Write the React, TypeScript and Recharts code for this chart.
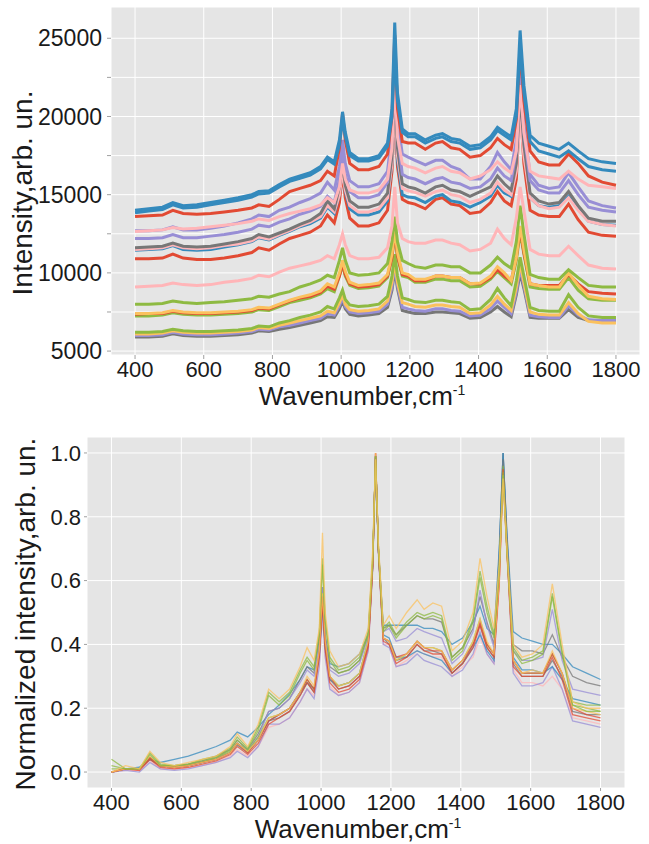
import React from 'react';
import { LineChart, Line, XAxis, YAxis, CartesianGrid } from 'recharts';

// ---------- shared wavenumber grid (cm^-1) ----------
const WAVENUMBERS = [400, 440, 480, 510, 540, 580, 620, 660, 700, 740, 760, 790, 820, 850, 880, 910, 940, 960, 980, 995, 1004, 1012, 1025, 1050, 1080, 1110, 1135, 1148, 1156, 1164, 1178, 1195, 1215, 1245, 1275, 1295, 1320, 1345, 1375, 1405, 1435, 1455, 1475, 1495, 1510, 1521, 1532, 1550, 1575, 1605, 1635, 1662, 1690, 1720, 1760, 1800];
const X_TICKS = [400, 600, 800, 1000, 1200, 1400, 1600, 1800];
const TOP_Y_TICKS = [5000, 7500, 10000, 12500, 15000, 17500, 20000, 22500, 25000];
const BOTTOM_Y_TICKS = [0, 0.2, 0.4, 0.6, 0.8, 1.0];

// ---------- raw spectra (top panel) ----------
const B1 = [14000,14100,14200,14500,14300,14350,14500,14650,14800,15000,15200,15250,15650,16000,16200,16400,16800,17400,17100,18500,20300,19000,17700,17300,17300,17500,18300,20500,26000,21500,19200,18900,18900,18500,18800,18900,18600,18500,18100,18200,18700,19300,19000,18700,20500,25500,22000,18800,18300,18100,17900,18300,17800,17300,17100,17000];
const B2 = [13850,13950,14050,14350,14150,14200,14350,14500,14650,14850,15050,15100,15500,15850,16050,16250,16650,17250,16950,18200,19800,18700,17500,17150,17150,17350,18100,20000,24000,21000,19000,18700,18700,18300,18600,18700,18400,18300,17900,18000,18500,19100,18800,18500,20000,24500,21500,18400,17800,17600,17400,17800,17300,16800,16600,16500];
const R1 = [13600,13650,13700,14000,13800,13750,13800,13900,14000,14150,14350,14250,14700,15200,15400,15600,15900,16500,16200,18000,20200,18500,17000,16600,16600,16800,17600,20000,25200,20500,18400,18300,18300,17900,18300,18400,18000,17900,17400,17500,18000,18600,18200,17900,19800,24300,21000,17800,17100,16900,16900,17600,17000,16200,15800,15600];
const P1 = [12650,12700,12750,12900,12800,12850,12950,13050,13150,13300,13450,13350,13600,13800,13950,14100,14350,14800,14500,15500,17000,16000,15300,15100,15100,15300,16000,18000,22500,18700,17000,16800,16700,16400,16700,16800,16500,16400,16000,16200,16600,17100,16700,16400,17800,22000,19000,16500,16200,16100,16000,16500,16000,15600,15500,15400];
const U1 = [12700,12700,12750,12950,12750,12750,12850,13000,13200,13450,13700,13600,14000,14200,14500,14750,15100,15800,15300,16800,18500,17000,15900,15500,15500,15700,16500,19000,23500,19800,17600,17400,17200,16900,17200,17200,16800,16600,16000,16000,16800,17700,17100,16600,18500,23000,19500,16300,15600,15400,15500,16400,15500,14600,14300,14150];
const U2 = [12200,12200,12250,12450,12250,12250,12350,12450,12600,12800,13050,12950,13250,13450,13750,13950,14250,14900,14500,16000,17800,16300,15200,14800,14800,15000,15800,18500,23000,19000,16300,16100,16000,15700,16000,16100,15800,15700,15400,15500,16000,16700,16200,15900,17800,22500,19000,15900,15300,15100,15100,15900,15000,14200,14000,13900];
const G1 = [11600,11650,11700,11900,11700,11650,11700,11850,12000,12200,12450,12300,12550,12800,13100,13350,13800,14600,14100,15500,17000,15600,14600,14200,14200,14400,15100,17500,22000,18000,15700,15500,15400,15100,15500,15600,15300,15200,14900,15200,15500,16200,15700,15300,17000,21500,18200,15100,14600,14400,14500,15200,14300,13500,13300,13300];
const P2 = [11500,11550,11600,11800,11600,11550,11600,11750,11850,12050,12300,12150,12450,12700,13000,13250,13600,14300,13900,15000,16500,15300,14300,13900,13900,14100,14800,17000,20500,17500,15400,15250,15150,14900,15200,15300,15000,14900,14500,14700,15100,15800,15300,15000,16500,20000,17500,14800,14300,14100,14200,14800,14000,13300,13100,13000];
const B3 = [11450,11500,11550,11750,11500,11450,11500,11650,11800,12000,12250,12100,12400,12650,12950,13150,13500,14200,13800,15000,16800,15200,14100,13700,13700,13900,14600,17000,21000,17200,15000,14850,14800,14500,14900,15000,14600,14500,14200,14500,14900,15600,15100,14900,16800,22000,18000,14800,14300,14200,14300,14900,14100,13300,13100,13050];
const R2 = [10900,10900,10950,11200,10950,10850,10850,10950,11100,11300,11600,11450,11850,12200,12400,12600,13000,13700,13200,14500,16500,14800,13500,13000,13000,13200,14000,16500,20500,16800,14700,14500,14400,14100,14700,14800,14400,14300,13800,13900,14500,15200,14600,14300,16000,21000,17000,14000,13700,13600,13600,14400,13400,12600,12400,12350];
const P3 = [9100,9150,9200,9350,9250,9200,9250,9400,9500,9650,9850,9750,10050,10300,10450,10600,10800,11100,10900,11800,12500,11800,11100,10900,10900,11000,11600,13000,15500,13200,12200,12000,11900,11900,12100,12100,11900,11800,11400,11500,11900,12800,12200,11800,13500,15500,14000,11500,11200,11100,11100,11700,11100,10500,10300,10250];
const N1 = [8000,8000,8050,8200,8100,8050,8100,8150,8250,8350,8500,8450,8650,8800,9100,9300,9550,9850,9700,10800,11600,10800,10000,9850,9900,10000,10600,12000,13600,12000,10800,10600,10400,10300,10500,10500,10400,10400,10000,10000,10500,11000,10600,10300,12000,14300,12500,9900,9700,9600,9600,10200,9700,9200,9100,9100];
const Y1 = [7400,7400,7450,7600,7500,7450,7450,7500,7550,7650,7800,7750,8000,8250,8450,8600,8850,9300,9100,10000,10800,10100,9400,9200,9250,9350,9900,11200,12800,11300,10000,9900,9600,9600,9800,9800,9700,9700,9300,9350,9800,10400,10000,9500,11000,13000,11500,9300,9200,9100,9100,10000,9200,8500,8350,8300];
const R3 = [7350,7400,7400,7550,7450,7400,7400,7450,7500,7600,7750,7700,7950,8200,8400,8500,8750,9150,8950,9800,10600,9900,9300,9100,9150,9250,9800,11000,12700,11100,9900,9800,9500,9500,9800,9800,9700,9700,9300,9300,9700,10200,9800,9500,11000,12800,11300,9300,9200,9200,9200,9900,9300,8800,8700,8650];
const N2 = [7250,7250,7300,7450,7350,7300,7300,7350,7400,7500,7650,7600,7850,8100,8250,8400,8650,9000,8800,9800,10500,9800,9200,9000,9050,9150,9700,11000,12500,11000,9800,9700,9400,9400,9600,9600,9500,9500,9100,9150,9600,10100,9700,9300,10800,12600,11200,9100,9000,8950,8950,9700,8900,8350,8250,8250];
const N3 = [6200,6200,6250,6400,6300,6250,6250,6300,6350,6450,6600,6550,6800,6950,7150,7300,7500,7850,7700,8400,8900,8300,7950,7850,7900,8000,8500,9800,11200,9800,8400,8300,8150,8100,8250,8250,8150,8100,7650,7700,8300,9000,8400,7900,9500,11000,9800,7800,7600,7550,7550,8600,7800,7250,7150,7150];
const Y2 = [6100,6100,6150,6300,6200,6150,6150,6200,6250,6350,6500,6450,6650,6800,6950,7100,7250,7550,7450,8100,8600,8000,7650,7550,7600,7700,8200,9400,10800,9400,8100,8000,7850,7800,7950,7950,7850,7800,7400,7450,7950,8500,8000,7600,9100,10600,9400,7500,7350,7300,7300,8100,7400,6900,6800,6800];
const U3 = [6000,6000,6050,6200,6100,6050,6050,6100,6150,6250,6400,6350,6550,6650,6800,6950,7100,7400,7300,7900,8400,7850,7500,7400,7450,7550,8000,9100,10500,9200,7800,7700,7600,7550,7700,7700,7600,7550,7250,7300,7700,8200,7800,7400,8800,10300,9200,7300,7200,7150,7150,7900,7300,7000,6950,6950];
const G3 = [5900,5900,5950,6100,6000,5950,5950,6000,6050,6150,6300,6250,6400,6500,6650,6800,6950,7200,7150,7700,8200,7700,7350,7250,7300,7400,7800,8900,10200,9000,7600,7500,7400,7400,7500,7500,7450,7400,7100,7150,7500,7850,7500,7200,8600,10000,9000,7150,7100,7100,7100,7650,7150,6950,6950,6950];

// ---------- normalized spectra (bottom panel) ----------
const L1 = [0.00,0.01,0.015,0.04,0.03,0.04,0.05,0.065,0.08,0.10,0.125,0.11,0.14,0.18,0.21,0.245,0.29,0.33,0.32,0.42,0.55,0.42,0.34,0.33,0.34,0.37,0.43,0.65,0.98,0.70,0.46,0.46,0.46,0.46,0.46,0.45,0.45,0.44,0.40,0.42,0.47,0.52,0.45,0.43,0.70,1.00,0.75,0.44,0.42,0.41,0.40,0.40,0.37,0.33,0.31,0.29];
const L2 = [0.00,0.01,0.01,0.045,0.02,0.02,0.025,0.035,0.05,0.07,0.10,0.07,0.12,0.19,0.20,0.23,0.29,0.33,0.31,0.42,0.58,0.43,0.33,0.31,0.32,0.35,0.43,0.66,0.99,0.71,0.45,0.46,0.43,0.46,0.49,0.48,0.48,0.47,0.36,0.39,0.45,0.55,0.47,0.40,0.68,1.00,0.74,0.40,0.38,0.38,0.37,0.43,0.36,0.30,0.28,0.27];
const L3 = [0.00,0.01,0.01,0.04,0.02,0.015,0.02,0.03,0.045,0.06,0.09,0.07,0.11,0.19,0.20,0.23,0.28,0.32,0.30,0.40,0.58,0.42,0.32,0.30,0.31,0.34,0.42,0.66,0.99,0.70,0.44,0.45,0.41,0.42,0.45,0.44,0.43,0.42,0.34,0.37,0.44,0.57,0.46,0.39,0.66,0.97,0.72,0.38,0.35,0.35,0.36,0.51,0.35,0.26,0.25,0.24];
const L4 = [0.00,0.02,0.01,0.065,0.03,0.02,0.03,0.04,0.05,0.08,0.12,0.08,0.15,0.26,0.23,0.26,0.33,0.39,0.35,0.45,0.75,0.50,0.38,0.33,0.34,0.37,0.45,0.70,0.98,0.72,0.46,0.49,0.45,0.50,0.54,0.51,0.53,0.52,0.38,0.41,0.50,0.67,0.55,0.45,0.65,0.92,0.70,0.40,0.36,0.37,0.40,0.59,0.40,0.22,0.20,0.20];
const L5 = [0.04,0.01,0.01,0.06,0.025,0.02,0.025,0.04,0.05,0.075,0.11,0.075,0.14,0.25,0.22,0.25,0.32,0.36,0.33,0.44,0.67,0.48,0.36,0.32,0.33,0.36,0.44,0.68,0.99,0.71,0.45,0.47,0.43,0.47,0.50,0.49,0.50,0.49,0.36,0.39,0.48,0.63,0.52,0.43,0.64,0.94,0.70,0.39,0.35,0.36,0.38,0.56,0.38,0.22,0.21,0.21];
const L6 = [0.02,0.01,0.01,0.055,0.02,0.02,0.025,0.035,0.045,0.07,0.10,0.07,0.13,0.24,0.21,0.24,0.31,0.35,0.32,0.43,0.65,0.47,0.35,0.31,0.32,0.35,0.43,0.67,0.99,0.70,0.44,0.46,0.42,0.46,0.49,0.48,0.49,0.48,0.35,0.38,0.47,0.61,0.50,0.42,0.63,0.93,0.69,0.38,0.34,0.35,0.37,0.55,0.37,0.21,0.19,0.19];
const L7 = [0.00,0.01,0.01,0.04,0.02,0.015,0.02,0.03,0.04,0.06,0.09,0.065,0.10,0.16,0.18,0.20,0.25,0.28,0.26,0.37,0.52,0.39,0.29,0.27,0.28,0.31,0.41,0.66,0.99,0.70,0.43,0.42,0.36,0.36,0.38,0.37,0.36,0.35,0.31,0.34,0.39,0.43,0.38,0.35,0.68,1.00,0.73,0.36,0.32,0.32,0.31,0.33,0.29,0.23,0.22,0.21];
const L8 = [0.00,0.01,0.01,0.045,0.02,0.015,0.02,0.03,0.04,0.06,0.09,0.06,0.10,0.16,0.18,0.20,0.25,0.29,0.26,0.38,0.55,0.40,0.30,0.26,0.27,0.30,0.40,0.65,1.00,0.70,0.42,0.41,0.36,0.37,0.41,0.39,0.38,0.38,0.32,0.35,0.40,0.47,0.40,0.37,0.60,0.95,0.70,0.35,0.31,0.31,0.31,0.37,0.31,0.20,0.18,0.17];
const L9 = [0.00,0.01,0.01,0.05,0.02,0.015,0.02,0.03,0.04,0.06,0.09,0.065,0.10,0.17,0.18,0.20,0.25,0.30,0.27,0.38,0.56,0.41,0.30,0.27,0.28,0.31,0.41,0.66,1.00,0.71,0.42,0.41,0.35,0.37,0.41,0.39,0.39,0.38,0.32,0.35,0.41,0.48,0.41,0.37,0.60,0.93,0.69,0.35,0.31,0.32,0.31,0.38,0.31,0.20,0.19,0.18];
const L10 = [0.00,0.005,0.005,0.035,0.01,0.01,0.015,0.02,0.03,0.05,0.07,0.05,0.08,0.14,0.15,0.17,0.22,0.26,0.24,0.34,0.50,0.36,0.27,0.24,0.25,0.28,0.38,0.64,0.99,0.69,0.40,0.40,0.33,0.35,0.38,0.37,0.36,0.36,0.30,0.33,0.36,0.42,0.37,0.34,0.58,0.92,0.68,0.32,0.28,0.28,0.27,0.30,0.26,0.17,0.16,0.15];
const L11 = [0.00,0.005,0.0,0.03,0.01,0.005,0.01,0.02,0.03,0.045,0.065,0.045,0.08,0.15,0.15,0.17,0.22,0.26,0.23,0.33,0.50,0.36,0.26,0.24,0.25,0.28,0.38,0.64,0.99,0.69,0.40,0.39,0.33,0.34,0.37,0.35,0.34,0.33,0.30,0.32,0.37,0.44,0.37,0.34,0.62,0.96,0.70,0.31,0.27,0.27,0.28,0.33,0.26,0.16,0.15,0.14];
const L12 = [0.00,0.01,0.01,0.04,0.02,0.015,0.02,0.03,0.04,0.06,0.085,0.06,0.10,0.16,0.17,0.19,0.24,0.28,0.25,0.37,0.54,0.39,0.29,0.26,0.27,0.30,0.40,0.65,0.99,0.70,0.42,0.40,0.35,0.36,0.40,0.38,0.38,0.37,0.31,0.34,0.40,0.46,0.39,0.36,0.64,0.98,0.71,0.34,0.30,0.30,0.30,0.35,0.30,0.19,0.18,0.18];
const L13 = [0.01,0.01,0.01,0.045,0.02,0.015,0.02,0.03,0.045,0.065,0.09,0.065,0.11,0.17,0.18,0.20,0.25,0.29,0.26,0.38,0.56,0.40,0.30,0.27,0.28,0.31,0.41,0.66,0.99,0.70,0.42,0.41,0.35,0.37,0.41,0.39,0.39,0.38,0.32,0.35,0.41,0.48,0.40,0.37,0.62,0.96,0.70,0.35,0.31,0.31,0.31,0.37,0.31,0.21,0.20,0.19];
const L14 = [0.00,0.01,0.005,0.04,0.015,0.01,0.015,0.025,0.035,0.055,0.08,0.055,0.09,0.15,0.17,0.19,0.24,0.28,0.25,0.36,0.53,0.38,0.28,0.25,0.26,0.29,0.39,0.65,1.00,0.70,0.41,0.40,0.34,0.36,0.40,0.38,0.37,0.37,0.31,0.34,0.39,0.46,0.39,0.36,0.59,0.94,0.69,0.33,0.30,0.30,0.30,0.36,0.29,0.18,0.17,0.16];

// ---------- styling ----------
const RED = '#E24A33';
const BLUE = '#348ABD';
const PURPLE = '#988ED5';
const GREY = '#777777';
const YELLOW = '#FBC15E';
const GREEN = '#8EBA42';
const PINK = '#FFB5B8';
const FONT = "'Liberation Sans', Arial, Helvetica, sans-serif";
const TXT = '#1a1a1a';

const topSeries = [
  { key: 'G3', values: G3, color: GREY },
  { key: 'U3', values: U3, color: PURPLE },
  { key: 'Y2', values: Y2, color: YELLOW },
  { key: 'N3', values: N3, color: GREEN },
  { key: 'N2', values: N2, color: GREEN },
  { key: 'R3', values: R3, color: RED },
  { key: 'Y1', values: Y1, color: YELLOW },
  { key: 'N1', values: N1, color: GREEN },
  { key: 'P3', values: P3, color: PINK },
  { key: 'R2', values: R2, color: RED },
  { key: 'B3', values: B3, color: BLUE },
  { key: 'P2', values: P2, color: PINK },
  { key: 'G1', values: G1, color: GREY },
  { key: 'U2', values: U2, color: PURPLE },
  { key: 'U1', values: U1, color: PURPLE },
  { key: 'P1', values: P1, color: PINK },
  { key: 'R1', values: R1, color: RED },
  { key: 'B2', values: B2, color: BLUE },
  { key: 'B1', values: B1, color: BLUE },
];

const bottomSeries = [
  { key: 'L1', values: L1, color: BLUE },
  { key: 'L2', values: L2, color: GREY },
  { key: 'L3', values: L3, color: PURPLE },
  { key: 'L10', values: L10, color: PINK },
  { key: 'L11', values: L11, color: PURPLE },
  { key: 'L7', values: L7, color: BLUE },
  { key: 'L12', values: L12, color: GREY },
  { key: 'L13', values: L13, color: GREEN },
  { key: 'L14', values: L14, color: RED },
  { key: 'L8', values: L8, color: RED },
  { key: 'L9', values: L9, color: YELLOW },
  { key: 'L6', values: L6, color: GREEN },
  { key: 'L5', values: L5, color: GREEN },
  { key: 'L4', values: L4, color: YELLOW },
];

const buildRows = (series: { key: string; values: number[] }[]) =>
  WAVENUMBERS.map((w, i) => {
    const row: Record<string, number> = { w };
    series.forEach((s) => {
      row[s.key] = s.values[i];
    });
    return row;
  });

const topData = buildRows(topSeries);
const bottomData = buildRows(bottomSeries);

const tickStyle = (size: number) => ({ fontSize: size, fill: TXT, fontFamily: FONT });

export default function App() {
  return (
    <div style={{ position: 'absolute', left: 0, top: 0, width: 649, height: 844, background: '#fff' }}>
      <div style={{ position: 'absolute', left: 0, top: 0 }}>
        <LineChart width={649} height={420} data={topData} margin={{ top: 7, right: 9, left: 0, bottom: 0 }}>
          <CartesianGrid fill="#E5E5E5" fillOpacity={1} stroke="#FFFFFF" strokeWidth={1} />
          <XAxis
            dataKey="w"
            type="number"
            domain={[330, 1870]}
            ticks={X_TICKS}
            interval={0}
            allowDataOverflow
            axisLine={false}
            tickLine={{ stroke: '#A0A0A0' }}
            tickSize={4}
            tickMargin={2}
            height={65}
            tick={tickStyle(22)}
          />
          <YAxis
            type="number"
            domain={[4750, 27000]}
            ticks={TOP_Y_TICKS}
            interval={0}
            allowDataOverflow
            axisLine={false}
            tickLine={{ stroke: '#A0A0A0' }}
            tickSize={4}
            tickMargin={5}
            width={111}
            tick={tickStyle(23)}
            tickFormatter={(v: number) => (v % 5000 === 0 ? String(v) : '')}
          />
          {topSeries.map((s) => (
            <Line
              key={s.key}
              dataKey={s.key}
              type="linear"
              stroke={s.color}
              strokeWidth={3}
              dot={false}
              isAnimationActive={false}
            />
          ))}
        </LineChart>
      </div>
      <div style={{ position: 'absolute', left: 0, top: 420 }}>
        <LineChart width={649} height={424} data={bottomData} margin={{ top: 17, right: 24, left: 0, bottom: 0 }}>
          <CartesianGrid fill="#E5E5E5" fillOpacity={1} stroke="#FFFFFF" strokeWidth={1} />
          <XAxis
            dataKey="w"
            type="number"
            domain={[330, 1870]}
            ticks={X_TICKS}
            interval={0}
            allowDataOverflow
            axisLine={false}
            tickLine={{ stroke: '#A0A0A0' }}
            tickSize={3}
            tickMargin={3}
            height={56}
            tick={tickStyle(22)}
          />
          <YAxis
            type="number"
            domain={[-0.05, 1.05]}
            ticks={BOTTOM_Y_TICKS}
            interval={0}
            allowDataOverflow
            axisLine={false}
            tickLine={{ stroke: '#A0A0A0' }}
            tickSize={3}
            tickMargin={3}
            width={87}
            tick={tickStyle(22)}
            tickFormatter={(v: number) => v.toFixed(1)}
          />
          {bottomSeries.map((s) => (
            <Line
              key={s.key}
              dataKey={s.key}
              type="linear"
              stroke={s.color}
              strokeOpacity={0.75}
              strokeWidth={1.3}
              dot={false}
              isAnimationActive={false}
            />
          ))}
        </LineChart>
      </div>
      <svg width={649} height={844} style={{ position: 'absolute', left: 0, top: 0, pointerEvents: 'none' }}>
        <text x={362} y={405} textAnchor="middle" fontSize={26} fontFamily={FONT} fill={TXT}>
          Wavenumber,cm<tspan fontSize={14} dy={-10}>-1</tspan>
        </text>
        <text x={358} y={838} textAnchor="middle" fontSize={26} fontFamily={FONT} fill={TXT}>
          Wavenumber,cm<tspan fontSize={14} dy={-10}>-1</tspan>
        </text>
        <text transform="translate(32,193) rotate(-90)" textAnchor="middle" fontSize={28} fontFamily={FONT} fill={TXT}>
          Intensity,arb. un.
        </text>
        <text transform="translate(35,614) rotate(-90)" textAnchor="middle" fontSize={28} fontFamily={FONT} fill={TXT}>
          Normalized intensity,arb. un.
        </text>
      </svg>
    </div>
  );
}
